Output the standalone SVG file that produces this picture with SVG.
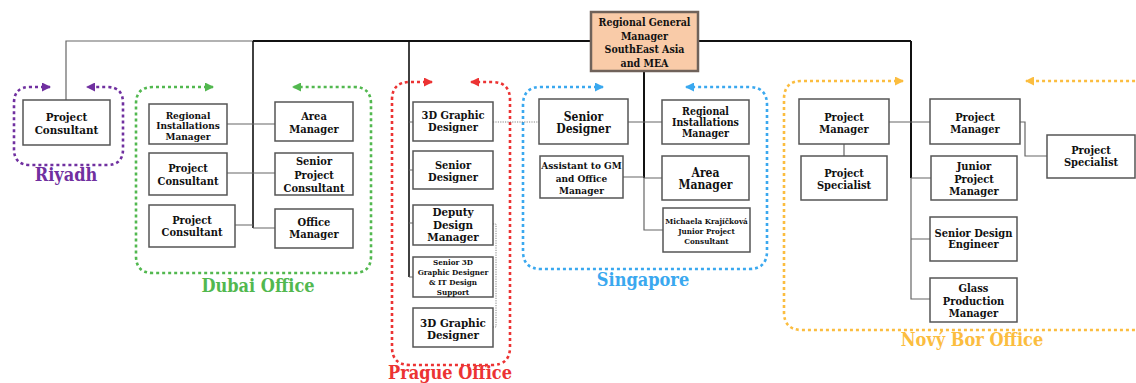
<svg xmlns="http://www.w3.org/2000/svg" width="1136" height="383" viewBox="0 0 1136 383">
<style>
.box{fill:#fff;stroke:#555;stroke-width:1.5}
.gm{fill:#f9cba8;stroke:#6f625a;stroke-width:2.5}
.t{font-family:"DejaVu Serif",serif;font-stretch:condensed;font-weight:bold;font-size:11px;fill:#111;text-anchor:middle}
.ts{font-family:"DejaVu Serif",serif;font-stretch:condensed;font-weight:bold;font-size:8px;fill:#111;text-anchor:middle}
.lbl{font-family:"DejaVu Serif",serif;font-stretch:condensed;font-weight:bold;font-size:18px;text-anchor:middle}
.thin{fill:none;stroke:#666;stroke-width:1.2}
.thick{fill:none;stroke:#111;stroke-width:2}
.dot{fill:none;stroke:#777;stroke-width:0.9;stroke-dasharray:1.2 1.2}
.grp{fill:none;stroke-width:2.6;stroke-dasharray:3 3}
</style>
<defs>
<marker id="aP" markerWidth="9" markerHeight="9" refX="8" refY="4.5" orient="auto-start-reverse" markerUnits="userSpaceOnUse"><path d="M0,0 L9,4.5 L0,9 Z" fill="#7030a0"/></marker>
<marker id="aG" markerWidth="9" markerHeight="9" refX="8" refY="4.5" orient="auto-start-reverse" markerUnits="userSpaceOnUse"><path d="M0,0 L9,4.5 L0,9 Z" fill="#52b84f"/></marker>
<marker id="aR" markerWidth="9" markerHeight="9" refX="8" refY="4.5" orient="auto-start-reverse" markerUnits="userSpaceOnUse"><path d="M0,0 L9,4.5 L0,9 Z" fill="#ec3333"/></marker>
<marker id="aB" markerWidth="9" markerHeight="9" refX="8" refY="4.5" orient="auto-start-reverse" markerUnits="userSpaceOnUse"><path d="M0,0 L9,4.5 L0,9 Z" fill="#3aa8ef"/></marker>
<marker id="aY" markerWidth="9" markerHeight="9" refX="8" refY="4.5" orient="auto-start-reverse" markerUnits="userSpaceOnUse"><path d="M0,0 L9,4.5 L0,9 Z" fill="#fbbd3f"/></marker>
</defs>

<g id="groups">
<path class="grp" stroke="#7030a0" marker-start="url(#aP)" marker-end="url(#aP)" d="M50,87 H30 Q14,87 14,103 V149 Q14,165 30,165 H107 Q123,165 123,149 V103 Q123,87 107,87 H87"/>
<path class="grp" stroke="#52b84f" marker-start="url(#aG)" marker-end="url(#aG)" d="M213,87 H153 Q136,87 136,104 V256 Q136,273 153,273 H354 Q371,273 371,256 V104 Q371,87 354,87 H293"/>
<path class="grp" stroke="#ec3333" marker-start="url(#aR)" marker-end="url(#aR)" d="M432,82 H410 Q392,82 392,100 V347 Q392,365 410,365 H492 Q510,365 510,347 V100 Q510,82 492,82 H471"/>
<path class="grp" stroke="#3aa8ef" marker-start="url(#aB)" marker-end="url(#aB)" d="M603,87 H541 Q523,87 523,105 V251 Q523,269 541,269 H749 Q767,269 767,251 V105 Q767,87 749,87 H686"/>
<path class="grp" stroke="#fbbd3f" marker-start="url(#aY)" marker-end="url(#aY)" d="M903,81 H802 Q784,81 784,99 V312 Q784,330 802,330 H1150 V81 H1026"/>
<text class="lbl" fill="#7030a0" x="66" y="181">Riyadh</text>
<text class="lbl" fill="#52b84f" x="258" y="292">Dubai Office</text>
<text class="lbl" fill="#ec3333" x="450" y="379">Prague Office</text>
<text class="lbl" fill="#3aa8ef" x="643" y="286">Singapore</text>
<text class="lbl" fill="#fbbd3f" x="972" y="346">Nový Bor Office</text>
</g>

<g id="connectors">
<path class="thin" d="M66,100 V41 H253"/>
<path class="thick" d="M253,41 H911"/>
<path class="thick" style="stroke-width:1.6" d="M253,41 V228"/>
<path class="thin" d="M227,124 H275 M227,173 H275 M235,225 H253 M253,228 H275"/>
<path class="thick" style="stroke-width:1.6" d="M409,41 V277"/>
<path class="thin" d="M409,122 H413 M409,170 H413 M409,223 H413 M409,277 H413"/>
<path class="thick" d="M644,71 V178"/>
<path class="thin" d="M644,178 V230 H663 M628,122 H662 M623,177 H644 M644,178 H662"/>
<path class="thick" d="M911,41 V178"/>
<path class="thin" d="M911,178 V299 H930 M889,122 H930 M911,178 H931 M911,239 H930 M844,144 V156 M1020,122 H1025 V156 H1047"/>
<path class="dot" d="M493,122 H539 M493,224 H496 V327 H493"/>
</g>

<g id="gm"><rect class="gm" x="591" y="12" width="107" height="59"/>
<text class="t" style="font-size:10.5px" x="644.5" y="26">Regional General</text>
<text class="t" style="font-size:10.5px" x="644.5" y="40">Manager</text>
<text class="t" style="font-size:10.5px" x="644.5" y="53">SouthEast Asia</text>
<text class="t" style="font-size:10.5px" x="644.5" y="67">and MEA</text></g>

<g id="riyadh-pc"><rect class="box" x="23" y="100" width="87" height="45"/>
<text class="t" style="font-size:11.5px" x="66.5" y="121">Project</text><text class="t" style="font-size:11.5px" x="66.5" y="134">Consultant</text></g>

<g id="dubai-rim"><rect class="box" x="149" y="104" width="78" height="40"/>
<text class="t" style="font-size:10px" x="188" y="118.5">Regional</text><text class="t" style="font-size:10px" x="188" y="129">Installations</text><text class="t" style="font-size:10px" x="188" y="139.5">Manager</text></g>
<g id="dubai-am"><rect class="box" x="275" y="102" width="78" height="39"/>
<text class="t" x="314" y="120">Area</text><text class="t" x="314" y="133">Manager</text></g>
<g id="dubai-pc1"><rect class="box" x="149" y="153" width="78" height="42"/>
<text class="t" x="188" y="172">Project</text><text class="t" x="188" y="185">Consultant</text></g>
<g id="dubai-spc"><rect class="box" x="275" y="153" width="78" height="42"/>
<text class="t" x="314" y="165">Senior</text><text class="t" x="314" y="179">Project</text><text class="t" x="314" y="192">Consultant</text></g>
<g id="dubai-pc2"><rect class="box" x="149" y="205" width="86" height="42"/>
<text class="t" x="192" y="224">Project</text><text class="t" x="192" y="236">Consultant</text></g>
<g id="dubai-om"><rect class="box" x="275" y="209" width="78" height="39"/>
<text class="t" x="314" y="226">Office</text><text class="t" x="314" y="238">Manager</text></g>

<g id="prague-3d1"><rect class="box" x="413" y="102" width="80" height="39"/>
<text class="t" x="453" y="119">3D Graphic</text><text class="t" x="453" y="131">Designer</text></g>
<g id="prague-sd"><rect class="box" x="413" y="151" width="80" height="38"/>
<text class="t" x="453" y="169">Senior</text><text class="t" x="453" y="181">Designer</text></g>
<g id="prague-ddm"><rect class="box" x="413" y="205" width="80" height="40"/>
<text class="t" style="font-size:11.5px" x="453" y="216">Deputy</text><text class="t" style="font-size:11.5px" x="453" y="228.5">Design</text><text class="t" style="font-size:11.5px" x="453" y="241">Manager</text></g>
<g id="prague-s3d"><rect class="box" x="413" y="257" width="80" height="40"/>
<text class="ts" x="453" y="265">Senior 3D</text><text class="ts" x="453" y="275">Graphic Designer</text><text class="ts" x="453" y="285">&amp; IT Design</text><text class="ts" x="453" y="295">Support</text></g>
<g id="prague-3d2"><rect class="box" x="413" y="308" width="80" height="39"/>
<text class="t" style="font-size:11.5px" x="453" y="327">3D Graphic</text><text class="t" style="font-size:11.5px" x="453" y="339">Designer</text></g>

<g id="sg-sd"><rect class="box" x="539" y="99" width="89" height="45"/>
<text class="t" style="font-size:12px" x="583.5" y="121">Senior</text><text class="t" style="font-size:12px" x="583.5" y="133">Designer</text></g>
<g id="sg-rim"><rect class="box" x="662" y="100" width="87" height="44"/>
<text class="t" style="font-size:10.5px" x="705.5" y="114.5">Regional</text><text class="t" style="font-size:10.5px" x="705.5" y="125.5">Installations</text><text class="t" style="font-size:10.5px" x="705.5" y="136.5">Manager</text></g>
<g id="sg-asst"><rect class="box" x="540" y="156" width="83" height="42"/>
<text class="t" style="font-size:10px" x="581.5" y="169">Assistant to GM</text><text class="t" style="font-size:10px" x="581.5" y="182">and Office</text><text class="t" style="font-size:10px" x="581.5" y="194">Manager</text></g>
<g id="sg-am"><rect class="box" x="662" y="156" width="87" height="44"/>
<text class="t" style="font-size:12px" x="705.5" y="177">Area</text><text class="t" style="font-size:12px" x="705.5" y="189">Manager</text></g>
<g id="sg-mk"><rect class="box" x="663" y="208" width="87" height="44"/>
<text class="ts" x="706.5" y="224">Michaela Krajíčková</text><text class="ts" x="706.5" y="234">Junior Project</text><text class="ts" x="706.5" y="244">Consultant</text></g>

<g id="nb-pm1"><rect class="box" x="799" y="99" width="90" height="45"/>
<text class="t" x="844" y="121">Project</text><text class="t" x="844" y="133">Manager</text></g>
<g id="nb-ps1"><rect class="box" x="801" y="156" width="86" height="44"/>
<text class="t" x="844" y="177">Project</text><text class="t" x="844" y="189">Specialist</text></g>
<g id="nb-pm2"><rect class="box" x="930" y="99" width="90" height="45"/>
<text class="t" x="975" y="121">Project</text><text class="t" x="975" y="133">Manager</text></g>
<g id="nb-jpm"><rect class="box" x="931" y="156" width="86" height="44"/>
<text class="t" x="974" y="170">Junior</text><text class="t" x="974" y="183">Project</text><text class="t" x="974" y="195">Manager</text></g>
<g id="nb-ps2"><rect class="box" x="1047" y="135" width="88" height="43"/>
<text class="t" x="1091" y="154">Project</text><text class="t" x="1091" y="166">Specialist</text></g>
<g id="nb-sde"><rect class="box" x="930" y="217" width="87" height="44"/>
<text class="t" x="973.5" y="237">Senior Design</text><text class="t" x="973.5" y="248">Engineer</text></g>
<g id="nb-gpm"><rect class="box" x="930" y="278" width="87" height="44"/>
<text class="t" x="973.5" y="292">Glass</text><text class="t" x="973.5" y="305">Production</text><text class="t" x="973.5" y="317">Manager</text></g>
</svg>
